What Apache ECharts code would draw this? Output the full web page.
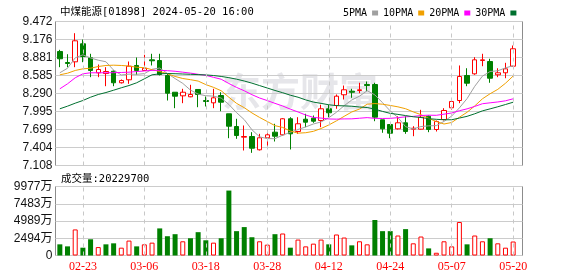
<!DOCTYPE html>
<html><head><meta charset="utf-8">
<script src="https://cdn.jsdelivr.net/npm/echarts@6/dist/echarts.min.js"></script>
<style>html,body{margin:0;padding:0;background:#fff}#c{width:578px;height:276px}</style>
</head><body><div id="c"></div>
<script>
const dates = ['02-20','02-21','02-22','02-23','02-26','02-27','02-28','02-29','03-01','03-04','03-05','03-06','03-07','03-08','03-11','03-12','03-13','03-14','03-15','03-18','03-19','03-20','03-21','03-22','03-25','03-26','03-27','03-28','04-02','04-03','04-05','04-08','04-09','04-10','04-11','04-12','04-15','04-16','04-17','04-18','04-19','04-22','04-23','04-24','04-25','04-26','04-29','04-30','05-02','05-03','05-06','05-07','05-08','05-09','05-10','05-13','05-14','05-16','05-17','05-20'];
const labelDates = ['02-23','03-06','03-18','03-28','04-12','04-24','05-07','05-20'];
const openP = [8.980,8.799,8.810,9.106,8.876,8.630,8.618,8.656,8.466,8.515,8.750,8.668,8.843,8.832,8.586,8.311,8.252,8.236,8.356,8.175,8.137,8.257,7.957,7.748,7.573,7.584,7.366,7.563,7.655,7.612,7.875,7.666,7.868,7.885,7.847,8.039,8.093,8.269,8.328,8.339,8.438,8.438,7.858,7.781,7.710,7.809,7.704,7.704,7.917,7.699,7.863,8.055,8.175,8.586,8.613,8.832,8.815,8.597,8.630,8.738];
const closeP = [8.860,8.783,9.155,8.897,8.668,8.684,8.651,8.466,8.503,8.738,8.668,8.705,8.827,8.602,8.295,8.246,8.311,8.274,8.274,8.159,8.219,8.147,7.753,7.600,7.584,7.392,7.563,7.612,7.589,7.875,7.628,7.793,7.819,7.835,8.039,7.973,8.246,8.351,8.311,8.351,8.421,7.901,7.710,7.638,7.809,7.666,7.720,7.901,7.699,7.830,8.011,8.159,8.569,8.459,8.843,8.843,8.541,8.630,8.695,9.024];
const lowP = [8.722,8.722,8.722,8.804,8.558,8.558,8.410,8.410,8.454,8.449,8.597,8.668,8.750,8.586,8.175,8.049,8.131,8.229,8.065,8.077,8.049,7.999,7.556,7.546,7.354,7.316,7.354,7.420,7.502,7.600,7.371,7.628,7.737,7.809,7.737,7.901,8.039,8.192,8.219,8.295,8.328,7.835,7.645,7.556,7.699,7.628,7.589,7.699,7.655,7.666,7.847,8.022,8.131,8.410,8.597,8.738,8.466,8.558,8.541,8.738];
const highP = [9.007,8.935,9.280,9.176,8.942,8.766,8.722,8.668,8.520,8.815,8.881,8.925,8.942,8.942,8.613,8.311,8.367,8.433,8.356,8.241,8.367,8.311,7.957,7.875,7.765,7.655,7.628,7.683,7.793,7.885,7.901,7.901,7.957,7.929,8.105,8.105,8.274,8.421,8.367,8.466,8.487,8.466,7.858,7.781,7.917,7.917,7.753,8.022,7.929,7.847,8.049,8.192,8.750,8.705,8.886,8.942,8.860,8.705,8.794,9.078];
const ma5 = [8.630,8.705,8.876,8.925,8.873,8.837,8.811,8.673,8.594,8.608,8.605,8.616,8.688,8.708,8.619,8.535,8.456,8.346,8.280,8.253,8.247,8.215,8.110,7.976,7.861,7.695,7.578,7.550,7.548,7.606,7.653,7.699,7.741,7.790,7.823,7.892,7.982,8.089,8.184,8.246,8.336,8.267,8.139,8.004,7.896,7.745,7.709,7.747,7.759,7.763,7.832,7.920,8.054,8.206,8.408,8.575,8.651,8.663,8.710,8.747];
const ma10 = [8.597,8.623,8.668,8.695,8.705,8.733,8.750,8.755,8.750,8.741,8.721,8.714,8.681,8.651,8.614,8.570,8.536,8.517,8.494,8.436,8.391,8.335,8.228,8.128,8.057,7.971,7.897,7.830,7.762,7.733,7.674,7.639,7.646,7.669,7.715,7.773,7.841,7.915,7.987,8.035,8.114,8.125,8.114,8.094,8.071,8.040,7.988,7.943,7.882,7.830,7.789,7.814,7.900,7.982,8.086,8.203,8.286,8.358,8.458,8.577];
const ma20 = [8.367,8.449,8.548,8.613,8.630,8.630,8.630,8.632,8.635,8.640,8.650,8.660,8.670,8.670,8.665,8.655,8.640,8.625,8.605,8.588,8.556,8.524,8.454,8.390,8.335,8.271,8.216,8.174,8.128,8.085,8.033,7.987,7.937,7.898,7.886,7.872,7.869,7.873,7.874,7.884,7.894,7.882,7.880,7.882,7.893,7.907,7.914,7.929,7.934,7.932,7.951,7.970,8.007,8.038,8.078,8.122,8.137,8.151,8.170,8.203];
const ma30 = [8.039,8.082,8.131,8.175,8.229,8.274,8.306,8.344,8.384,8.421,8.466,8.531,8.597,8.613,8.618,8.615,8.610,8.605,8.600,8.595,8.585,8.570,8.550,8.525,8.495,8.460,8.420,8.380,8.340,8.303,8.262,8.229,8.185,8.149,8.128,8.105,8.091,8.087,8.081,8.068,8.060,8.033,7.996,7.964,7.947,7.928,7.908,7.896,7.877,7.866,7.859,7.859,7.887,7.915,7.957,8.005,8.038,8.072,8.109,8.147];
// volume in 万 (10,000 shares)
const volume = [1614,1320,3770,1130,2347,1218,1614,1760,1130,2156,1320,1614,1858,3917,2787,3081,2054,2494,3374,2200,1858,2494,9389,3521,4108,2641,2054,1570,3081,3183,1130,2303,1320,1716,2303,1614,3037,2597,1467,2054,1614,5135,3521,3521,2890,3814,1760,2743,1027,396,2054,1320,4841,1614,2890,2054,2494,1760,1130,2022.97];
const volDir = [-1,-1,1,-1,-1,1,-1,-1,1,1,-1,1,1,-1,-1,-1,1,-1,-1,-1,1,-1,-1,-1,-1,-1,1,1,-1,1,-1,1,1,1,1,-1,1,1,-1,1,1,-1,-1,-1,1,-1,1,1,-1,1,1,1,1,-1,1,1,-1,1,1,1];
const priceTicks = ['7.108','7.404','7.699','7.995','8.290','8.585','8.881','9.176','9.472'];
const volTicks = ['0','2494万','4989万','7483万','9977万'];
const maNames = ['5PMA','10PMA','20PMA','30PMA'];
const titleText = '中煤能源[01898] 2024-05-20 16:00';
const volLabel = '成交量:';
const watermark = '东方财富';

const priceMin = 7.108, priceMax = 9.472, volMax = 9977;
const RED = '#ff0000', GREEN = '#008000';
const maColors = ['#a0a0a0','#f0a000','#ff00ff','#00702f'];
const numFont = "'Liberation Sans','Noto Sans CJK SC'";
const monoFont = "'DejaVu Sans Mono','Noto Sans CJK SC'";

const chart = echarts.init(document.getElementById('c'), null, {renderer: 'canvas'});
const frameGrid = {left: 55.5, width: 467, show: true, borderColor: '#8c8c8c', borderWidth: 1, backgroundColor: 'transparent'};
const candleData = openP.map((o, i) => [o, closeP[i], lowP[i], highP[i]]);
const volData = volume.map((v, i) => ({
  value: v,
  itemStyle: volDir[i] > 0 ? {color: '#fff', borderColor: RED, borderWidth: 1} : {color: GREEN, borderColor: GREEN, borderWidth: 0}
}));
const vLines = {silent: true, symbol: 'none', label: {show: false}, animation: false,
  lineStyle: {type: [4, 4], color: '#c8c8c8', width: 1},
  data: labelDates.map(d => ({xAxis: d}))};

chart.setOption({
  animation: false,
  backgroundColor: '#fff',
  title: [
    {text: titleText, left: 55, top: 2, textStyle: {fontSize: 10.5, fontWeight: 'normal', color: '#000', fontFamily: monoFont}},
    {text: volLabel + Math.round(volume[volume.length - 1] * 10000), left: 56, top: 169, textStyle: {fontSize: 10.5, fontWeight: 'normal', color: '#000', fontFamily: monoFont}}
  ],
  legend: {
    data: maNames, left: 338, top: 3, align: 'right', icon: 'rect', itemWidth: 6, itemHeight: 5, itemGap: 5,
    textStyle: {fontFamily: monoFont, fontSize: 10, color: '#000'}
  },
  graphic: [{
    type: 'text', left: 222, top: 72, z: -10, silent: true,
    style: {text: watermark, fill: '#e6e6ea', font: 'bold 39px "Noto Sans CJK SC"'}
  }],
  grid: [
    Object.assign({top: 21.5, height: 144}, frameGrid),
    {left: 56, width: 461, top: 21.5, height: 144, show: false},
    Object.assign({top: 186.5, height: 69}, frameGrid),
    {left: 56, width: 461, top: 186.5, height: 69, show: false}
  ],
  xAxis: [
    {type: 'value', gridIndex: 0, show: false, min: 0, max: 1},
    {type: 'category', gridIndex: 1, data: dates, boundaryGap: true, axisLine: {show: false}, axisTick: {show: false}, axisLabel: {show: false}, splitLine: {show: false}},
    {type: 'value', gridIndex: 2, show: false, min: 0, max: 1},
    {type: 'category', gridIndex: 3, data: dates, boundaryGap: true, axisLine: {show: false}, axisTick: {show: false}, splitLine: {show: false},
     axisLabel: {interval: (i, v) => labelDates.indexOf(v) >= 0, color: RED, fontFamily: "'Liberation Serif'", fontSize: 12, margin: 5}}
  ],
  yAxis: [
    {type: 'value', gridIndex: 0, min: 0, max: 8, interval: 1, axisLine: {show: false}, axisTick: {show: false},
     splitLine: {lineStyle: {color: '#cccccc', width: 1}},
     axisLabel: {formatter: v => priceTicks[Math.round(v)], color: '#111', fontFamily: numFont, fontSize: 12, margin: 3}},
    {type: 'value', gridIndex: 1, min: priceMin, max: priceMax, show: false, scale: true},
    {type: 'value', gridIndex: 2, min: 0, max: 4, interval: 1, axisLine: {show: false}, axisTick: {show: false},
     splitLine: {lineStyle: {color: '#cccccc', width: 1}},
     axisLabel: {formatter: v => volTicks[Math.round(v)], color: '#111', fontFamily: numFont, fontSize: 12, margin: 3}},
    {type: 'value', gridIndex: 3, min: 0, max: volMax, show: false}
  ],
  series: [
    {type: 'line', name: 'grid-price', xAxisIndex: 1, yAxisIndex: 1, data: [], z: 1, markLine: vLines},
    {type: 'line', name: 'grid-vol', xAxisIndex: 3, yAxisIndex: 3, data: [], z: 1, markLine: vLines},
    {type: 'candlestick', xAxisIndex: 1, yAxisIndex: 1, data: candleData, barWidth: 5, z: 3,
     itemStyle: {color: '#fff', color0: GREEN, borderColor: RED, borderColor0: GREEN, borderWidth: 1}},
    ...[ma5, ma10, ma20, ma30].map((d, k) => ({
      type: 'line', name: maNames[k], xAxisIndex: 1, yAxisIndex: 1, data: d, symbol: 'none', z: 4,
      lineStyle: {width: 1, color: maColors[k]}, itemStyle: {color: maColors[k]}
    })),
    {type: 'bar', xAxisIndex: 3, yAxisIndex: 3, data: volData, barWidth: 5, z: 3}
  ]
});
</script></body></html>
